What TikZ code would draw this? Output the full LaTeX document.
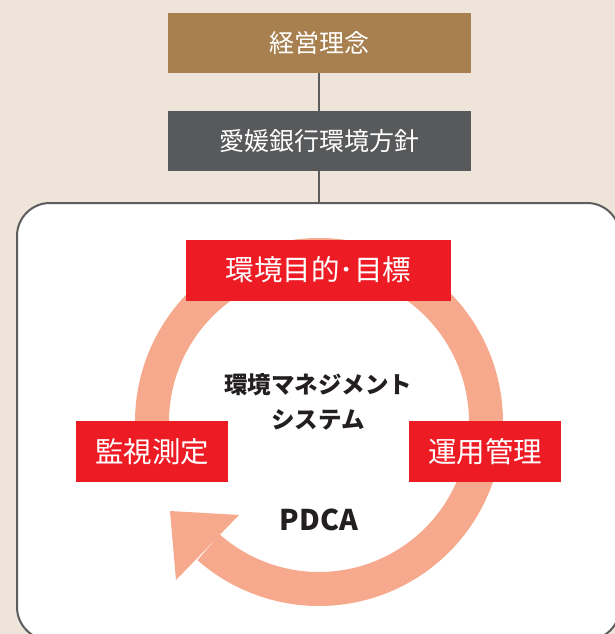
\documentclass[tikz,border=0pt]{standalone}
\usepackage{fontspec}
\newfontfamily\jp{Noto Sans CJK JP}
\definecolor{bgc}{HTML}{EEE4D9}
\definecolor{cbrown}{HTML}{A8804F}
\definecolor{cgrey}{HTML}{58595B}
\definecolor{cline}{HTML}{5C5C5C}
\definecolor{cred}{HTML}{ED1C24}
\definecolor{cring}{HTML}{F7A98D}
\definecolor{ctxt}{HTML}{231F20}
\begin{document}
\begin{tikzpicture}[x=1pt,y=-1pt,
  topbox/.style={minimum width=303pt, minimum height=60pt, inner sep=0pt, text=white,
    font=\jp\fontsize{25}{30}\selectfont},
  redbox/.style={fill=cred, minimum height=61pt, inner sep=0pt, text=white,
    font=\jp\fontsize{28.5}{34}\selectfont},
  sysbox/.style={draw=cline, line width=2pt, fill=white, rounded corners=33pt,
    minimum width=603pt, minimum height=437pt, inner sep=0pt},
  conn/.style={draw=cline, line width=2.5pt},
  ctextstyle/.style={text=ctxt, align=center, inner sep=0pt,
    font=\jp\bfseries\fontsize{23.5}{35}\selectfont},
  ptextstyle/.style={text=ctxt, inner sep=0pt, font=\jp\bfseries\fontsize{28.5}{34}\selectfont}
]
\clip (0,0) rectangle (615,634);
\fill[bgc] (0,0) rectangle (615,634);
\useasboundingbox (0,0) rectangle (615,634);

\node[topbox, fill=cbrown] (b1) at (319,43) {経営理念};
\node[topbox, fill=cgrey] (b2) at (319,141) {愛媛銀行環境方針};
\node[sysbox] (sys) at (318.5,421.5) {};
\draw[conn] (b1) -- (b2);
\draw[conn] (b2) -- (b2.south |- sys.north);

% PDCA ring arrow
\draw[cring, line width=34pt] plot[domain=165:491.4, samples=240]
  ({319+167*cos(\x)},{422+167*sin(\x)});
\fill[cring] (170,511) -- (239,515) -- (176,580) -- cycle;

\node[redbox, minimum width=265pt] (plan) at (318.5,270) {環境目的･目標};
\node[redbox, minimum width=152pt] (check) at (152,451.5) {監視測定};
\node[redbox, minimum width=152pt] (do) at (485,451.5) {運用管理};

\node[ctextstyle] (ems) at (318,402) {環境マネジメント\\システム};
\node[ptextstyle] (pdca) at (319,520) {PDCA};
\end{tikzpicture}
\end{document}
